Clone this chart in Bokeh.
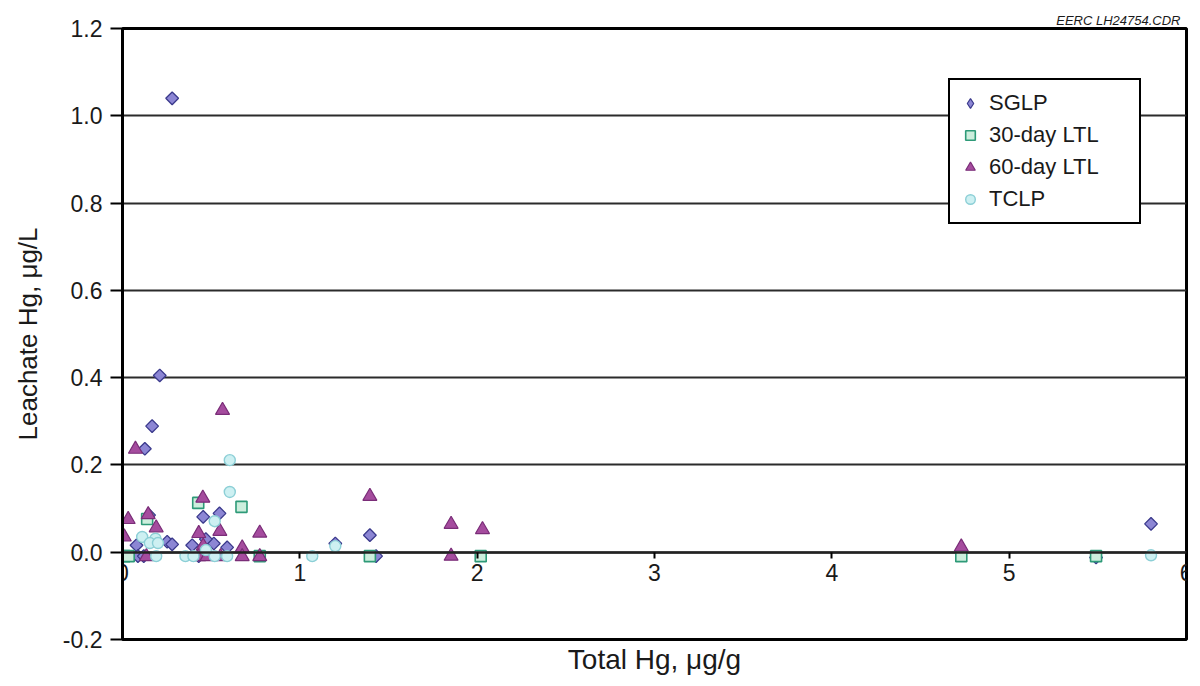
import numpy as np
from bokeh.plotting import figure
from bokeh.models import (Range1d, LinearAxis, FixedTicker, PrintfTickFormatter,
                          Legend, LegendItem)
from bokeh.embed import file_html
from bokeh.resources import INLINE

# ---------------- data ----------------
sglp_x = [0.28, 0.21, 0.167, 0.126, 0.455, 0.547, 0.15, 0.252, 0.28, 0.079, 0.393,
          0.515, 0.59, 0.087, 0.12, 0.43, 0.47, 1.2, 1.395, 1.43, 5.49, 5.80]
sglp_y = [1.04, 0.405, 0.289, 0.237, 0.081, 0.089, 0.085, 0.024, 0.018, 0.016, 0.016,
          0.02, 0.011, -0.009, -0.009, -0.009, 0.03, 0.02, 0.039, -0.009, -0.012, 0.065]

ltl30_x = [0.01, 0.035, 0.139, 0.427, 0.671, 0.774, 1.395, 2.02, 4.73, 5.49]
ltl30_y = [-0.009, -0.009, 0.076, 0.113, 0.104, -0.009, -0.009, -0.009, -0.009, -0.009]

ltl60_x = [0.073, 0.032, 0.145, 0.19, 0.01, 0.564, 0.453, 0.43, 0.549, 0.774, 0.455,
           0.675, 0.135, 0.43, 0.477, 0.553, 0.675, 0.774, 1.395, 1.853, 1.853, 2.03, 4.73]
ltl60_y = [0.236, 0.075, 0.086, 0.056, 0.035, 0.325, 0.124, 0.043, 0.048, 0.044, 0.014,
           0.01, -0.01, -0.01, -0.01, -0.01, -0.01, -0.01, 0.128, 0.064, -0.009, 0.052, 0.012]

tclp_x = [0.605, 0.605, 0.52, 0.111, 0.186, 0.154, 0.2, 0.19, 0.355, 0.4, 0.52, 0.59,
          1.07, 1.2, 5.80, 0.47]
tclp_y = [0.211, 0.138, 0.071, 0.035, 0.031, 0.021, 0.021, -0.009, -0.009, -0.009,
          -0.009, -0.009, -0.009, 0.014, -0.007, 0.005]

x_ticks = [0, 1, 2, 3, 4, 5, 6]
y_ticks = [-0.2, 0.0, 0.2, 0.4, 0.6, 0.8, 1.0, 1.2]

FONT = "Liberation Sans"
TXT = "#1a1a1a"

SGLP_FILL, SGLP_LINE = "#8c86d4", "#3b3a8c"

p = figure(width=1192, height=678, output_backend="svg", toolbar_location=None,
           x_range=Range1d(0, 6), y_range=Range1d(-0.2, 1.2),
           x_axis_location=None,
           min_border_left=122, min_border_right=6, min_border_top=28,
           min_border_bottom=39)
p.background_fill_color = "white"
p.border_fill_color = "white"
p.outline_line_color = "black"
p.outline_line_width = 3

# title (top-right note)
p.title.text = "EERC LH24754.CDR"
p.title.align = "right"
p.title.text_font = FONT
p.title.text_font_size = "13px"
p.title.text_font_style = "italic"
p.title.text_color = TXT
p.title.standoff = 2
p.title.offset = 6

# y axis
ya = p.yaxis[0]
ya.ticker = FixedTicker(ticks=y_ticks)
ya.formatter = PrintfTickFormatter(format="%.1f")
ya.axis_label = "Leachate Hg, μg/L"
ya.axis_label_text_font = FONT
ya.axis_label_text_font_size = "26px"
ya.axis_label_text_font_style = "normal"
ya.axis_label_text_color = TXT
ya.axis_label_standoff = 17
ya.major_label_text_font = FONT
ya.major_label_text_font_size = "23px"
ya.major_label_text_color = TXT
ya.major_label_standoff = 8
ya.major_tick_out = 12
ya.major_tick_in = 0
ya.major_tick_line_width = 2
ya.major_tick_line_color = "black"
ya.minor_tick_out = 0
ya.minor_tick_in = 0
ya.axis_line_color = "black"
ya.axis_line_width = 3

p.ygrid.ticker = FixedTicker(ticks=y_ticks)
p.ygrid.grid_line_color = "#2b2b2b"
p.ygrid.grid_line_width = 2
p.xgrid.visible = False

# x axis drawn at y = 0 (ticks and labels)
xa0 = LinearAxis(fixed_location=0)
xa0.ticker = FixedTicker(ticks=x_ticks)
xa0.major_label_text_font = FONT
xa0.major_label_text_font_size = "23px"
xa0.major_label_text_color = TXT
xa0.major_label_standoff = 6
xa0.major_tick_out = 6
xa0.major_tick_in = 0
xa0.major_tick_line_width = 2
xa0.minor_tick_out = 0
xa0.minor_tick_in = 0
xa0.axis_line_color = "#222222"
xa0.axis_line_width = 2.5
p.add_layout(xa0, "below")

# x axis label below the frame
xl = LinearAxis(ticker=FixedTicker(ticks=[]))
xl.axis_label = "Total Hg, μg/g"
xl.axis_label_text_font = FONT
xl.axis_label_text_font_size = "28px"
xl.axis_label_text_font_style = "normal"
xl.axis_label_text_color = TXT
xl.axis_label_standoff = 4
xl.axis_line_color = None
xl.major_tick_out = 0
xl.major_tick_in = 0
xl.minor_tick_out = 0
xl.minor_tick_in = 0
xl.major_label_text_font_size = "0px"
p.add_layout(xl, "below")

# series
# SGLP legend swatch: a diamond drawn beneath the rotated squares (hidden by them),
# used only so that the legend shows a diamond (rotation is not applied in legends)
r1_key = p.scatter(sglp_x, sglp_y, marker="diamond", size=11,
                   fill_color=SGLP_FILL, line_color=SGLP_LINE, line_width=1.2)
r1 = p.scatter(sglp_x, sglp_y, marker="square", angle=np.pi / 4, size=9,
               fill_color=SGLP_FILL, line_color=SGLP_LINE, line_width=1.3)
r2 = p.scatter(ltl30_x, ltl30_y, marker="square", size=11,
               fill_color="#cdeedd", line_color="#2e9a78", line_width=1.6)
r3 = p.scatter(ltl60_x, ltl60_y, marker="triangle", size=14,
               fill_color="#a54c9e", line_color="#7a2d78", line_width=1.2)
r4 = p.scatter(tclp_x, tclp_y, marker="circle", size=11,
               fill_color="#cdf0f2", line_color="#8ccfd6", line_width=1.4)

legend = Legend(items=[LegendItem(label="SGLP", renderers=[r1_key]),
                       LegendItem(label="30-day LTL", renderers=[r2]),
                       LegendItem(label="60-day LTL", renderers=[r3]),
                       LegendItem(label="TCLP", renderers=[r4])],
                location=(826, 415))
legend.border_line_color = "black"
legend.border_line_alpha = 1
legend.border_line_width = 2.5
legend.background_fill_color = "white"
legend.background_fill_alpha = 1
legend.label_text_font = FONT
legend.label_text_font_size = "22px"
legend.label_text_color = TXT
legend.glyph_width = 24
legend.glyph_height = 24
legend.label_standoff = 7
legend.label_width = 142
legend.label_height = 30
legend.spacing = 2
legend.padding = 8
legend.margin = 0
p.add_layout(legend)

open("out.html", "w").write(file_html(p, INLINE))
